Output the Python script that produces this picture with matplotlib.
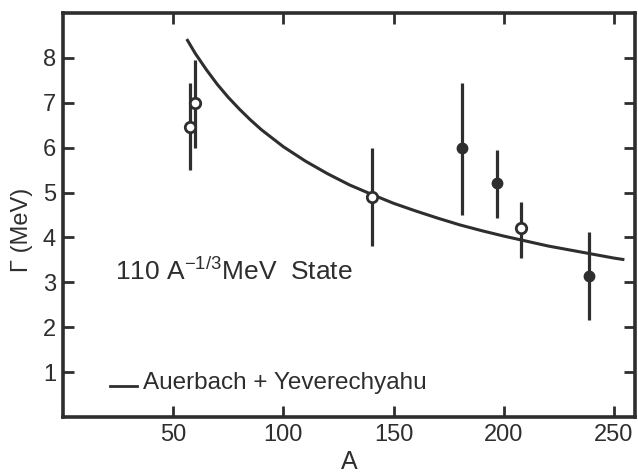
import matplotlib
matplotlib.use("Agg")
import matplotlib.pyplot as plt

plt.rcParams['font.family'] = ['Liberation Sans', 'DejaVu Sans']

# Open-circle data points
open_A = [57.7, 60.0, 140.0, 208.0]
open_G = [6.45, 7.0, 4.9, 4.2]
open_lo = [0.95, 1.0, 1.1, 0.65]
open_hi = [1.0, 0.95, 1.1, 0.6]

# Filled-circle data points
fill_A = [181.0, 197.0, 238.5]
fill_G = [6.0, 5.22, 3.13]
fill_lo = [1.5, 0.78, 0.96]
fill_hi = [1.45, 0.72, 1.0]

# Auerbach + Yeverechyahu curve
curve_A = [56.5, 60, 65, 70, 75, 80, 85, 90, 95, 100, 105, 110, 120, 130, 140,
           150, 160, 170, 180, 190, 200, 210, 220, 230, 240, 250, 254]
curve_G = [8.39, 8.10, 7.74, 7.41, 7.12, 6.86, 6.62, 6.40, 6.21, 6.02, 5.86, 5.70,
           5.42, 5.17, 4.96, 4.76, 4.59, 4.43, 4.28, 4.15, 4.03, 3.92, 3.81, 3.72,
           3.63, 3.54, 3.51]

x_ticks = [50, 100, 150, 200, 250]
y_ticks = [1, 2, 3, 4, 5, 6, 7, 8]

ink = '#2e2e2e'

fig = plt.figure(figsize=(6.38, 4.76), dpi=100)
ax = fig.add_axes([63/638, 1-417/476, (635-63)/638, (417-13)/476])

ax.plot(curve_A, curve_G, color=ink, lw=2.2, zorder=2, solid_joinstyle='round')

ax.errorbar(fill_A, fill_G, yerr=[fill_lo, fill_hi], fmt='o', color=ink,
            ms=7.5, mfc=ink, mec=ink, elinewidth=2.3, capsize=0, zorder=3)
ax.errorbar(open_A, open_G, yerr=[open_lo, open_hi], fmt='o', color=ink,
            ms=7.5, mfc='white', mec=ink, mew=2.0, elinewidth=2.3, capsize=0, zorder=3)

ax.set_xlim(0, 259.5)
ax.set_ylim(0, 9.0)
ax.set_xticks(x_ticks)
ax.set_yticks(y_ticks)
ax.tick_params(direction='in', length=8, width=2, colors=ink, labelsize=17,
               top=True, right=True, pad=5)
for s in ax.spines.values():
    s.set_linewidth(2.6)
    s.set_color(ink)

ax.set_xlabel('A', fontsize=18, color=ink, labelpad=3)
ax.set_ylabel('Γ (MeV)', fontsize=17, color=ink)
ax.yaxis.set_label_coords(-0.052, 0.463)

ax.text(23.5, 3.05, r'110 A$^{\mathregular{-1/3}}$MeV  State', fontsize=19, color=ink,
        ha='left', va='baseline')
ax.plot([21.5, 33.5], [0.68, 0.68], color=ink, lw=2)
ax.text(36.5, 0.63, 'Auerbach + Yeverechyahu', fontsize=17.5, color=ink,
        ha='left', va='baseline')

fig.savefig('out.png', dpi=100)
